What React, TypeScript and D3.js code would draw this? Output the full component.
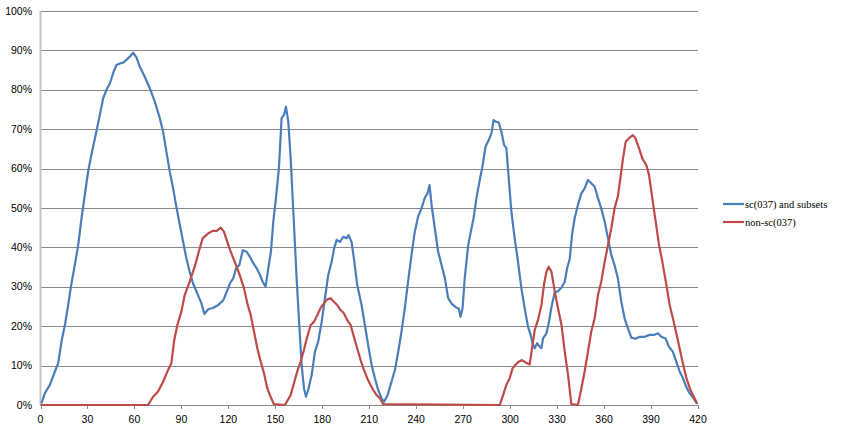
import * as d3 from 'd3'

const blueX = [0.6, 2.8, 6, 9.2, 11.3, 13.4, 15.6, 17.7, 19.8, 21.9, 24.1, 26.2, 28.3, 30.4, 32.5, 35.7, 37.9, 40, 42.1, 44.3, 46.4, 48.5, 50.7, 52.8, 54.9, 57, 59.2, 61.3, 63.4, 66.6, 69.8, 73, 76.2, 78.3, 80.4, 82.6, 84.7, 86.8, 89, 91.1, 93.2, 95.3, 97.4, 100.6, 102.8, 104.7, 107.2, 110.4, 113.6, 116.8, 119, 121.1, 123.2, 124.9, 127, 129.2, 131.7, 133.8, 135.9, 138.1, 140.2, 141.9, 143.8, 145.5, 147.2, 148.7, 150.4, 152.3, 154, 155.5, 156.8, 158.3, 159.8, 161.5, 163.6, 165.3, 166.8, 168.3, 169.6, 171, 173.2, 175.3, 177.4, 179.6, 181.7, 183.8, 186, 187.6, 189.2, 191.3, 193.4, 195.5, 196.8, 198.7, 200.2, 202.3, 205.1, 207.2, 209.3, 211.5, 213.6, 215.7, 217.9, 219.5, 221.7, 224.2, 226.4, 228.5, 230.6, 232.7, 234.8, 237, 239.1, 241.2, 243.4, 245.5, 247.2, 248.5, 249.8, 251.9, 254, 256.2, 258.3, 260.4, 262.9, 265.7, 267.2, 268.3, 269.6, 271, 273.2, 274.9, 276.6, 278.5, 280.6, 282.1, 284.3, 286.4, 288.1, 289.4, 291, 292.7, 294.4, 296.1, 297.6, 299.1, 300.8, 302.9, 305, 307.2, 309.3, 311.4, 313.1, 314.5, 315.7, 317.2, 318.9, 320, 321, 323.2, 324.8, 326.4, 328.5, 330.6, 332.8, 334.9, 336.4, 338.1, 339.5, 341.2, 343.3, 345.5, 347.6, 349.7, 351.8, 354, 356.1, 358.2, 360.4, 362.5, 364.6, 366.7, 368.8, 371, 373.1, 375.2, 377.4, 380.1, 382.7, 385.9, 389.1, 392.2, 394.4, 396.5, 399.3, 401.4, 404, 406.1, 408.3, 410.4, 412.5, 414.6, 417.2, 419.5]
const blueY = [0.4, 3, 5.1, 8.5, 10.6, 16.1, 20.3, 25.4, 30.9, 35.5, 40.6, 47.4, 53.3, 59.2, 63.5, 69.4, 73.6, 77.8, 80, 81.6, 84.2, 86.3, 86.7, 86.9, 87.6, 88.4, 89.4, 88.2, 85.9, 83.3, 80.4, 77, 72.8, 69.4, 64.3, 59.2, 55, 50.3, 45.7, 41.4, 37.2, 33.8, 30.9, 27.9, 25.8, 23.1, 24.3, 24.7, 25.4, 26.6, 28.8, 30.9, 32.2, 34.7, 35.5, 39.3, 38.9, 37.6, 36, 34.7, 33, 31.3, 30, 34.7, 38.9, 46.5, 52.5, 60.1, 72.8, 73.6, 75.7, 71.9, 62.6, 49.1, 32.2, 20.3, 10.2, 4.2, 2.1, 3.8, 7.6, 13.5, 16.1, 21.1, 27.1, 33, 36.4, 39.8, 41.9, 41.4, 42.7, 42.3, 43.1, 41.4, 37.2, 30.5, 25.4, 20.3, 15.2, 10.2, 6.8, 3.8, 1.7, 0.8, 2.5, 5.9, 8.9, 13.5, 18.6, 24.5, 31.3, 38.1, 44, 47.8, 49.9, 52.6, 53.7, 55.8, 50.8, 44.8, 38.9, 35.5, 32.2, 27.1, 25.6, 24.7, 24.5, 22.4, 24.5, 32.2, 40.6, 44, 47.4, 52.5, 57.1, 60.1, 65.6, 67.3, 69, 72.3, 71.9, 71.7, 69.4, 66, 65.2, 57.5, 49.1, 42.3, 36.4, 29.6, 24.5, 19.9, 17.8, 15.5, 14.4, 15.7, 14.8, 14.4, 16.9, 18.2, 21.1, 24.9, 28.6, 28.9, 29.8, 31.3, 34.7, 37.2, 43.1, 47.4, 50.8, 53.7, 55, 57.1, 56.3, 55.4, 52.5, 49.9, 46.5, 42.3, 38.1, 35.5, 32.2, 26.2, 22, 19.5, 17.1, 16.8, 17.3, 17.3, 17.8, 17.8, 18.2, 17.3, 16.9, 14.8, 13.5, 11, 8.5, 6.8, 4.6, 3, 1.7, 0.3]

const redX = [0, 68.7, 71.9, 75.1, 78.3, 81.5, 83.6, 85.3, 87.4, 90, 92.1, 95.3, 98.5, 101.3, 103.6, 105.9, 107.2, 110, 112.6, 115.1, 117.2, 119.3, 121.5, 123.6, 125.7, 127.9, 130, 132.1, 134.3, 136.4, 138.5, 140.7, 142.8, 144.9, 147, 149.1, 156.2, 157.6, 159.8, 161.9, 164, 166.2, 168.3, 170.4, 172.6, 174.7, 176.8, 179, 181.1, 183.2, 185.3, 187.4, 189.5, 191.7, 193.8, 195.9, 198.1, 200.2, 202.3, 204.5, 206.6, 208.7, 210.8, 212.6, 214.7, 216.8, 218.9, 293.4, 295.5, 297.6, 299.7, 301.5, 303.4, 305.5, 307.6, 309.8, 312.5, 314.4, 315.7, 317.8, 320, 321.6, 323.2, 324.6, 326.4, 328.5, 330.6, 332.8, 334.9, 337, 339.1, 343.3, 345.5, 347.6, 349.7, 351.8, 354, 356.1, 358.2, 360.4, 362.5, 364.6, 366.7, 368.8, 370.4, 372.1, 373.8, 375.9, 378.4, 380.1, 382.3, 384.4, 387, 388.7, 390.8, 393, 395.1, 397.2, 399.8, 401.9, 404.5, 407.3, 410.1, 412.6, 415.2, 417.8, 419.5]
const redY = [0, 0, 2.1, 3.4, 5.9, 8.9, 10.6, 16.1, 20.3, 23.7, 27.9, 31.3, 35.1, 39.2, 42.3, 43.1, 43.6, 44.2, 44.2, 45, 44, 41.4, 38.9, 36.8, 34.7, 32.2, 29.6, 25.8, 22.8, 18.6, 14.4, 11, 8, 4.2, 2.1, 0.2, 0, 1, 2.5, 5.5, 8.5, 11, 14, 17.3, 20.3, 21.1, 22.8, 24.7, 25.8, 26.8, 27.1, 26.2, 25.4, 24.1, 23.3, 21.6, 20.3, 17.3, 14.4, 11.4, 8.9, 6.8, 5.1, 3.8, 2.5, 1.7, 0.2, 0, 2.5, 5.1, 6.8, 9.3, 10.2, 11, 11.4, 10.8, 10.3, 15.6, 19, 21.6, 25.4, 30.5, 33.8, 35.1, 33.8, 28.8, 24.5, 20.3, 13.5, 7.6, 0.2, 0, 4.2, 8.5, 13.5, 18.6, 22, 27.9, 31.3, 36.4, 40.6, 44.8, 49.9, 52.9, 57.5, 62.6, 66.8, 67.7, 68.5, 67.7, 65.2, 62.6, 60.9, 58.4, 52.5, 46.5, 40.6, 36.4, 30.5, 25.4, 21.1, 16.1, 11, 6.8, 3.8, 1.7, 0.3]

const xTicks = d3.range(0, 421, 30)
const yTicks = d3.range(0, 101, 10)
const seriesNames = ['sc(037) and subsets', 'non-sc(037)']
const seriesColors = ['#4a7ebb', '#be4b48']

export default function App() {
  const width = 841
  const height = 427
  const x = d3.scaleLinear([0, 420], [40.5, 698])
  const y = d3.scaleLinear([0, 100], [405, 11])
  const line = d3
    .line<[number, number]>()
    .x((d) => x(d[0]))
    .y((d) => y(d[1]))

  const blue = blueX.map((v, i) => [v, blueY[i]] as [number, number])
  const red = redX.map((v, i) => [v, redY[i]] as [number, number])

  return (
    <div style={{ position: 'fixed', left: 0, top: 0 }}>
      <svg width={width} height={height} style={{ display: 'block', background: '#fff' }}>
        <g stroke="#8a8a8a" strokeWidth={1}>
          {yTicks.map((t) => (
            <line key={t} x1={x(0)} x2={x(420)} y1={Math.round(y(t)) + 0.5} y2={Math.round(y(t)) + 0.5} />
          ))}
          {xTicks.map((t) => (
            <line key={t} x1={Math.round(x(t)) + 0.5} x2={Math.round(x(t)) + 0.5} y1={y(0)} y2={y(0) + 4} />
          ))}
        </g>
        <line x1={x(0)} x2={x(0)} y1={y(100)} y2={y(0) + 1} stroke="#c4c4c4" strokeWidth={2} />
        <g fontFamily="Liberation Sans, Arial, sans-serif" fontSize={10.5} fill="#000">
          {yTicks.map((t) => (
            <text key={t} x={32} y={y(t)} dy="0.35em" textAnchor="end">
              {t}%
            </text>
          ))}
          {xTicks.map((t) => (
            <text key={t} x={x(t)} y={419} dy="0.35em" textAnchor="middle">
              {t}
            </text>
          ))}
        </g>
        <path d={line(blue) ?? undefined} fill="none" stroke={seriesColors[0]} strokeWidth={2.2} strokeLinejoin="round" />
        <path d={line(red) ?? undefined} fill="none" stroke={seriesColors[1]} strokeWidth={2.2} strokeLinejoin="round" />
        <g fontFamily="Liberation Serif, Cambria, serif" fontSize={10.5}>
          {seriesNames.map((n, i) => (
            <g key={n} transform={`translate(723,${204 + i * 18})`}>
              <line x1={0} x2={21} y1={0} y2={0} stroke={seriesColors[i]} strokeWidth={2.2} />
              <text x={22} y={0} dy="0.35em">
                {n}
              </text>
            </g>
          ))}
        </g>
      </svg>
    </div>
  )
}
